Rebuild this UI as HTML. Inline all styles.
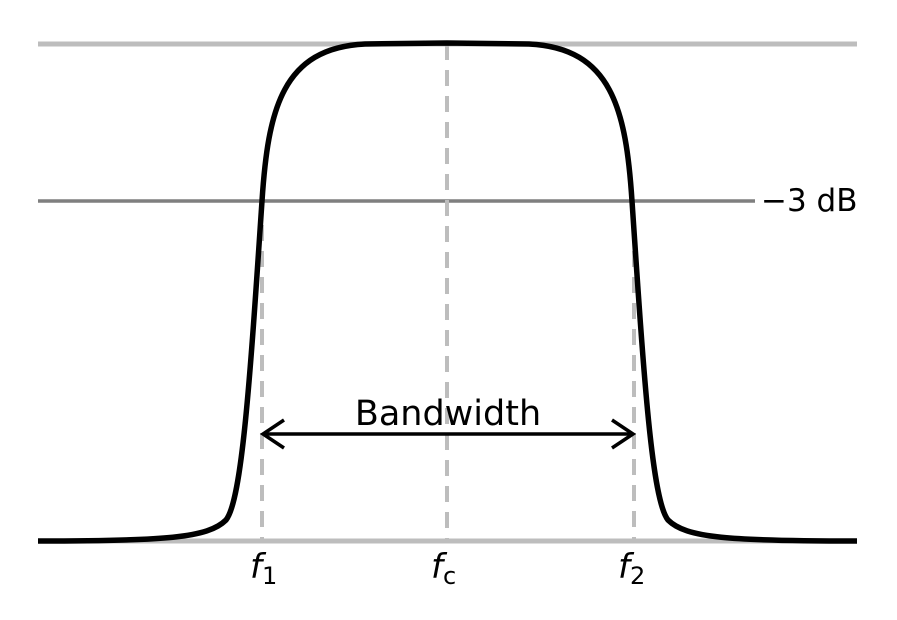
<!DOCTYPE html>
<html><head><style>html,body{margin:0;padding:0;background:#fff}</style></head>
<body>
<svg width="897" height="620" viewBox="0 0 897 620" xmlns="http://www.w3.org/2000/svg" style="display:block">
<line x1="38" y1="44" x2="857" y2="44" stroke="#bdbdbd" stroke-width="5"/>
<line x1="38" y1="201" x2="755" y2="201" stroke="#7f7f7f" stroke-width="3.5"/>
<line x1="38" y1="541" x2="857" y2="541" stroke="#bdbdbd" stroke-width="5"/>
<g stroke="#bdbdbd" stroke-width="4" stroke-dasharray="16,10">
<line x1="262" y1="225" x2="262" y2="541"/>
<line x1="447" y1="44" x2="447" y2="541"/>
<line x1="634" y1="225" x2="634" y2="541"/>
</g>
<path fill="none" stroke="#000" stroke-width="5.5" stroke-linejoin="round" d="M38,541 C165,541 208,538 226,520 C242,500 250,380 262,201 C268,110 282,48 365,44 L447,43 L529,44 C612,48 626,110 632,201 C644,380 652,500 668,520 C686,538 729,541 857,541"/>
<line x1="264" y1="434" x2="632" y2="434" stroke="#000" stroke-width="3.5"/>
<polyline points="284,420 263,434 284,448" fill="none" stroke="#000" stroke-width="3.5"/>
<polyline points="612,420 633,434 612,448" fill="none" stroke="#000" stroke-width="3.5"/>
<g font-family="DejaVu Sans, Liberation Sans, sans-serif" fill="#000">
<text x="448" y="425" font-size="35" text-anchor="middle">Bandwidth</text>
<text x="761" y="211" font-size="31">−3 dB</text>
<text x="250" y="578" font-size="34" font-style="italic">f<tspan font-size="24" font-style="normal" dy="6">1</tspan></text>
<text x="431" y="578" font-size="34" font-style="italic">f<tspan font-size="24" font-style="normal" dy="6">c</tspan></text>
<text x="618" y="578" font-size="34" font-style="italic">f<tspan font-size="24" font-style="normal" dy="6">2</tspan></text>
</g>
</svg>
</body></html>
